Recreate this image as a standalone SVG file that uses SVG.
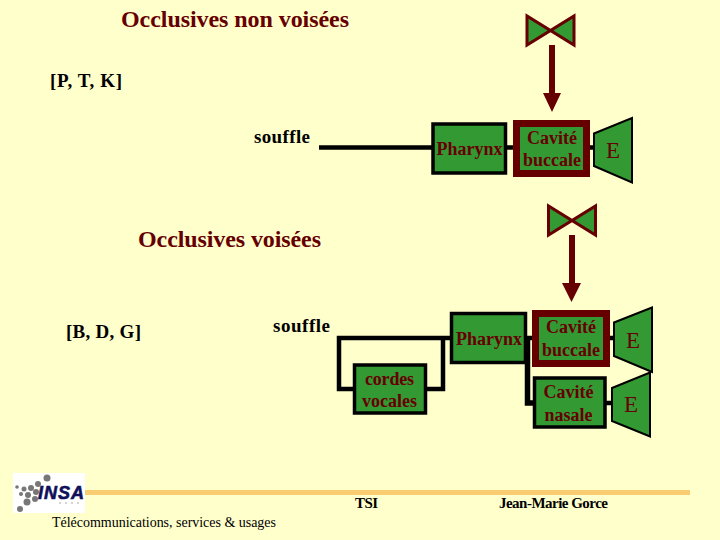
<svg xmlns="http://www.w3.org/2000/svg" width="720" height="540" viewBox="0 0 720 540">
<style>
text{font-family:"Liberation Serif","Times New Roman",serif;font-weight:bold}
.t{fill:#660000}
.h{font-size:24px}
.b{font-size:18px;text-anchor:middle}
.e-t{font-size:23px;text-anchor:middle;font-weight:normal}
.k{fill:#000;font-size:19px}
.f{fill:#000;font-size:15px}
.box{fill:#339933;stroke:#000;stroke-width:3.500}
.red{fill:#339933;stroke:#660000;stroke-width:7}
.e{fill:#339933;stroke:#000;stroke-width:2}
.v{fill:#339933;stroke:#660000;stroke-width:3}
.c{fill:none;stroke:#000;stroke-width:4.500}
.a{fill:none;stroke:#660000;stroke-width:6}
.ah{fill:#660000}
</style>
<rect width="720" height="540" fill="#ffffcc"/>
<rect x="85" y="490" width="605" height="5" fill="#f9cc72"/>
<g id="connectors">
<path class="c" d="M319 147.500H433M505 147.500H515M588 147.500H595"/>
<path class="c" d="M452 338H339V389H355M425 389H443V338"/>
<path class="c" d="M525 338H534M608 338H615M605 403H613"/>
<path class="c" style="stroke-width:5.500" d="M527.500 338V403H535"/>
<path class="a" d="M552 45V94M572 235V284"/>
<path class="ah" d="M543 93H561L552 112ZM562 283H581L571.500 302Z"/>
</g>
<g id="valve1"><path class="v" d="M527 16V45L574 16V45Z"/></g>
<g id="valve2"><path class="v" d="M548.500 206V235L595.500 206V235Z"/></g>
<g id="pharynx1"><rect class="box" x="433" y="124" width="72.500" height="49"/><text class="t b" x="469.500" y="155" textLength="66">Pharynx</text></g>
<g id="cavite1"><rect class="red" x="516.500" y="123.500" width="70" height="50"/><text class="t b" x="552" y="144">Cavité</text><text class="t b" x="552" y="166">buccale</text></g>
<g id="e1"><path class="e" d="M594 133.500L632 118V182.500L594 166Z"/><text class="t e-t" x="613" y="158">E</text></g>
<g id="pharynx2"><rect class="box" x="451.500" y="313.500" width="74" height="49"/><text class="t b" x="489" y="345" textLength="66">Pharynx</text></g>
<g id="cavite2"><rect class="red" x="535.500" y="313.500" width="71" height="50"/><text class="t b" x="571" y="333">Cavité</text><text class="t b" x="571" y="356">buccale</text></g>
<g id="e2"><path class="e" d="M614 322.500L652 307.500V372L614 356Z"/><text class="t e-t" x="633" y="348">E</text></g>
<g id="cordes"><rect class="box" x="354.500" y="365" width="71" height="48"/><text class="t b" x="389.500" y="385" textLength="49">cordes</text><text class="t b" x="389.500" y="407">vocales</text></g>
<g id="nasale"><rect class="box" x="534.500" y="378" width="70.500" height="49"/><text class="t b" x="568.500" y="398">Cavité</text><text class="t b" x="568.500" y="421">nasale</text></g>
<g id="e3"><path class="e" d="M612 388L650 372.500V436.500L612 421Z"/><text class="t e-t" x="631" y="412">E</text></g>
<text class="t h" x="121" y="27" textLength="228">Occlusives non voisées</text>
<text class="k" x="50" y="87" textLength="72">[P, T, K]</text>
<text class="k" x="254" y="143" textLength="56">souffle</text>
<text class="t h" x="138" y="247" textLength="183">Occlusives voisées</text>
<text class="k" x="66" y="338" textLength="75">[B, D, G]</text>
<text class="k" x="273" y="332" textLength="57">souffle</text>
<g id="logo">
<rect x="13" y="473" width="72" height="40" fill="#fff"/>
<g fill="#777"><circle cx="47" cy="478" r="3.500"/><circle cx="38" cy="484" r="3"/><circle cx="31" cy="488" r="3"/><circle cx="24" cy="489" r="2.500"/><circle cx="17" cy="487" r="1.800"/><circle cx="36" cy="492" r="3"/><circle cx="28" cy="495" r="3"/><circle cx="21" cy="494" r="2"/><circle cx="35" cy="499" r="3"/><circle cx="27" cy="502" r="3.500"/><circle cx="20" cy="509" r="3"/></g>
<text x="38" y="499" style="font-family:'Liberation Sans',sans-serif;font-style:italic" font-size="18" fill="#10105a" stroke="#10105a" stroke-width=".6" textLength="46">INSA</text>
<g fill="#888"><circle cx="60" cy="503" r=".7"/><circle cx="66" cy="503" r=".7"/><circle cx="72" cy="503" r=".7"/><circle cx="78" cy="503" r=".7"/></g>
</g>
<text class="f" x="355" y="508" textLength="23">TSI</text>
<text class="f" x="499" y="508" textLength="109">Jean-Marie Gorce</text>
<text class="f" x="52" y="527" style="font-weight:normal;font-size:14px" textLength="224">Télécommunications, services &amp; usages</text>
</svg>
